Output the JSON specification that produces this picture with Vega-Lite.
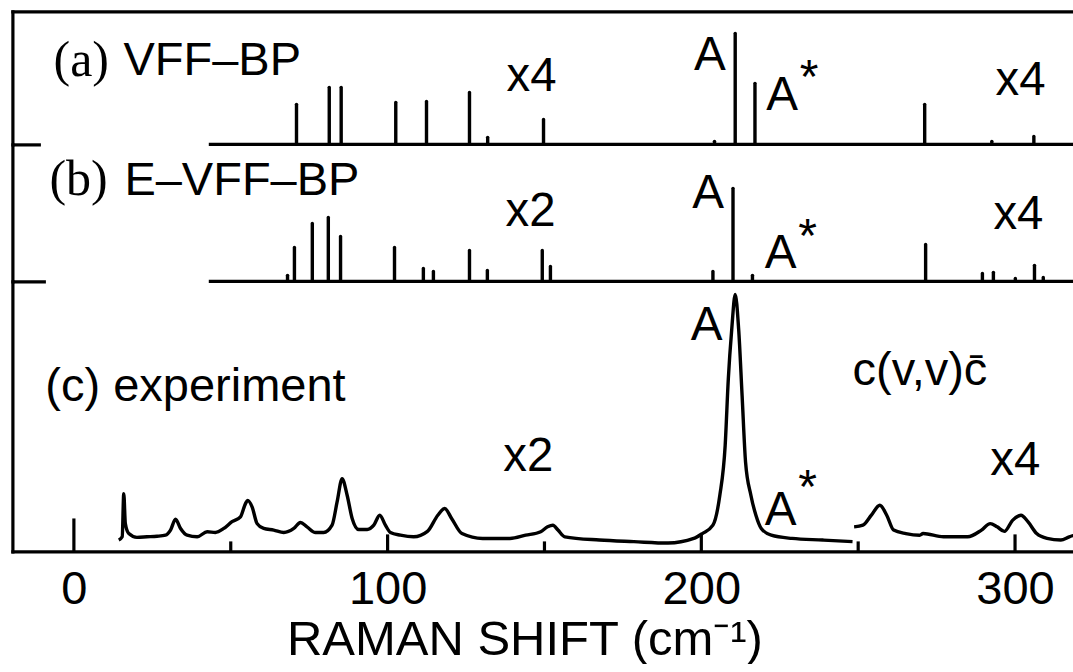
{
  "$schema": "https://vega.github.io/schema/vega-lite/v6.json",
  "background": "white",
  "padding": {"left": 10.4, "top": 11.4, "right": 0, "bottom": 0},
  "bounds": "flush",
  "spacing": 0,
  "config": {
    "view": {"stroke": null},
    "font": "Liberation Sans",
    "axis": {"domainColor": "black", "domainWidth": 3.2, "domainCap": "square", "tickColor": "black", "tickWidth": 3.2, "grid": false, "labelColor": "black", "titleColor": "black"}
  },
  "datasets": {
    "sticks": [
      {"panel": "a", "shift": 70.96, "intensity": 30.1},
      {"panel": "a", "shift": 81.4, "intensity": 42.9},
      {"panel": "a", "shift": 85.2, "intensity": 42.9},
      {"panel": "a", "shift": 102.6, "intensity": 31.6},
      {"panel": "a", "shift": 112.4, "intensity": 32.3},
      {"panel": "a", "shift": 126.1, "intensity": 39.1},
      {"panel": "a", "shift": 131.9, "intensity": 5.3},
      {"panel": "a", "shift": 149.7, "intensity": 18.8},
      {"panel": "a", "shift": 204.2, "intensity": 2.3},
      {"panel": "a", "shift": 210.8, "intensity": 83.5},
      {"panel": "a", "shift": 217.1, "intensity": 45.9},
      {"panel": "a", "shift": 271.2, "intensity": 30.1},
      {"panel": "a", "shift": 292.6, "intensity": 2.3},
      {"panel": "a", "shift": 306.0, "intensity": 6.0},
      {"panel": "b", "shift": 68.1, "intensity": 4.4},
      {"panel": "b", "shift": 70.3, "intensity": 24.8},
      {"panel": "b", "shift": 76.0, "intensity": 42.3},
      {"panel": "b", "shift": 81.1, "intensity": 46.7},
      {"panel": "b", "shift": 85.0, "intensity": 32.8},
      {"panel": "b", "shift": 102.2, "intensity": 24.8},
      {"panel": "b", "shift": 111.4, "intensity": 9.5},
      {"panel": "b", "shift": 114.6, "intensity": 7.3},
      {"panel": "b", "shift": 126.1, "intensity": 22.6},
      {"panel": "b", "shift": 131.8, "intensity": 8.0},
      {"panel": "b", "shift": 149.3, "intensity": 22.6},
      {"panel": "b", "shift": 151.9, "intensity": 10.9},
      {"panel": "b", "shift": 203.7, "intensity": 7.3},
      {"panel": "b", "shift": 210.1, "intensity": 67.9},
      {"panel": "b", "shift": 216.3, "intensity": 4.4},
      {"panel": "b", "shift": 271.5, "intensity": 27.0},
      {"panel": "b", "shift": 289.6, "intensity": 5.8},
      {"panel": "b", "shift": 293.1, "intensity": 6.6},
      {"panel": "b", "shift": 300.1, "intensity": 2.2},
      {"panel": "b", "shift": 306.2, "intensity": 11.7},
      {"panel": "b", "shift": 309.0, "intensity": 2.9}
    ],
    "baselines": [
      {"panel": "a", "intensity": 0},
      {"panel": "b", "intensity": 0}
    ],
    "experiment": [
      {"segment": 1, "shift": 14.3, "intensity": 4.2},
      {"segment": 1, "shift": 15.4, "intensity": 5.4},
      {"segment": 1, "shift": 15.9, "intensity": 21.4},
      {"segment": 1, "shift": 16.4, "intensity": 10.3},
      {"segment": 1, "shift": 17.5, "intensity": 6.6},
      {"segment": 1, "shift": 20.1, "intensity": 5.2},
      {"segment": 1, "shift": 23.3, "intensity": 5.4},
      {"segment": 1, "shift": 26.5, "intensity": 5.6},
      {"segment": 1, "shift": 29.2, "intensity": 6.0},
      {"segment": 1, "shift": 30.8, "intensity": 7.9},
      {"segment": 1, "shift": 32.4, "intensity": 11.9},
      {"segment": 1, "shift": 34.0, "intensity": 8.5},
      {"segment": 1, "shift": 36.1, "intensity": 6.0},
      {"segment": 1, "shift": 39.3, "intensity": 5.4},
      {"segment": 1, "shift": 42.5, "intensity": 7.3},
      {"segment": 1, "shift": 45.1, "intensity": 7.0},
      {"segment": 1, "shift": 47.8, "intensity": 8.5},
      {"segment": 1, "shift": 50.4, "intensity": 11.0},
      {"segment": 1, "shift": 53.1, "intensity": 12.8},
      {"segment": 1, "shift": 54.7, "intensity": 17.7},
      {"segment": 1, "shift": 55.4, "intensity": 18.9},
      {"segment": 1, "shift": 56.8, "intensity": 16.5},
      {"segment": 1, "shift": 58.4, "intensity": 10.3},
      {"segment": 1, "shift": 60.5, "intensity": 8.5},
      {"segment": 1, "shift": 63.7, "intensity": 7.9},
      {"segment": 1, "shift": 66.9, "intensity": 7.0},
      {"segment": 1, "shift": 70.1, "intensity": 8.5},
      {"segment": 1, "shift": 72.2, "intensity": 10.7},
      {"segment": 1, "shift": 74.3, "intensity": 9.1},
      {"segment": 1, "shift": 77.0, "intensity": 7.0},
      {"segment": 1, "shift": 79.6, "intensity": 7.0},
      {"segment": 1, "shift": 82.3, "intensity": 9.7},
      {"segment": 1, "shift": 83.9, "intensity": 18.3},
      {"segment": 1, "shift": 85.5, "intensity": 26.9},
      {"segment": 1, "shift": 87.1, "intensity": 20.8},
      {"segment": 1, "shift": 88.7, "intensity": 12.2},
      {"segment": 1, "shift": 90.8, "intensity": 8.1},
      {"segment": 1, "shift": 93.5, "intensity": 8.1},
      {"segment": 1, "shift": 95.6, "intensity": 9.7},
      {"segment": 1, "shift": 97.5, "intensity": 13.4},
      {"segment": 1, "shift": 99.3, "intensity": 9.7},
      {"segment": 1, "shift": 100.9, "intensity": 7.0},
      {"segment": 1, "shift": 104.1, "intensity": 6.0},
      {"segment": 1, "shift": 108.3, "intensity": 5.4},
      {"segment": 1, "shift": 112.7, "intensity": 7.4},
      {"segment": 1, "shift": 116.0, "intensity": 13.4},
      {"segment": 1, "shift": 118.2, "intensity": 15.9},
      {"segment": 1, "shift": 120.4, "intensity": 12.2},
      {"segment": 1, "shift": 123.7, "intensity": 6.6},
      {"segment": 1, "shift": 130.3, "intensity": 4.8},
      {"segment": 1, "shift": 139.0, "intensity": 4.8},
      {"segment": 1, "shift": 144.0, "intensity": 6.0},
      {"segment": 1, "shift": 148.8, "intensity": 7.3},
      {"segment": 1, "shift": 151.0, "intensity": 9.1},
      {"segment": 1, "shift": 152.7, "intensity": 9.7},
      {"segment": 1, "shift": 154.3, "intensity": 7.9},
      {"segment": 1, "shift": 156.5, "intensity": 5.4},
      {"segment": 1, "shift": 167.5, "intensity": 4.2},
      {"segment": 1, "shift": 178.5, "intensity": 3.6},
      {"segment": 1, "shift": 189.4, "intensity": 3.1},
      {"segment": 1, "shift": 197.6, "intensity": 4.8},
      {"segment": 1, "shift": 200.3, "intensity": 6.6},
      {"segment": 1, "shift": 203.7, "intensity": 9.7},
      {"segment": 1, "shift": 205.9, "intensity": 20.8},
      {"segment": 1, "shift": 207.6, "intensity": 39.2},
      {"segment": 1, "shift": 208.6, "intensity": 63.8},
      {"segment": 1, "shift": 209.7, "intensity": 82.3},
      {"segment": 1, "shift": 210.8, "intensity": 95.2},
      {"segment": 1, "shift": 211.9, "intensity": 82.3},
      {"segment": 1, "shift": 213.0, "intensity": 57.7},
      {"segment": 1, "shift": 214.1, "intensity": 33.1},
      {"segment": 1, "shift": 215.8, "intensity": 20.8},
      {"segment": 1, "shift": 217.4, "intensity": 13.4},
      {"segment": 1, "shift": 219.1, "intensity": 8.5},
      {"segment": 1, "shift": 222.3, "intensity": 6.0},
      {"segment": 1, "shift": 228.9, "intensity": 4.8},
      {"segment": 1, "shift": 238.8, "intensity": 4.2},
      {"segment": 1, "shift": 248.2, "intensity": 3.6},
      {"segment": 2, "shift": 248.7, "intensity": 9.1},
      {"segment": 2, "shift": 251.5, "intensity": 9.7},
      {"segment": 2, "shift": 254.2, "intensity": 13.4},
      {"segment": 2, "shift": 256.9, "intensity": 17.1},
      {"segment": 2, "shift": 259.1, "intensity": 13.4},
      {"segment": 2, "shift": 261.3, "intensity": 7.9},
      {"segment": 2, "shift": 265.2, "intensity": 6.6},
      {"segment": 2, "shift": 269.6, "intensity": 6.0},
      {"segment": 2, "shift": 270.7, "intensity": 6.6},
      {"segment": 2, "shift": 277.2, "intensity": 5.4},
      {"segment": 2, "shift": 284.9, "intensity": 5.4},
      {"segment": 2, "shift": 289.3, "intensity": 7.9},
      {"segment": 2, "shift": 292.1, "intensity": 10.3},
      {"segment": 2, "shift": 294.3, "intensity": 9.1},
      {"segment": 2, "shift": 296.6, "intensity": 7.4},
      {"segment": 2, "shift": 299.2, "intensity": 11.5},
      {"segment": 2, "shift": 301.9, "intensity": 13.4},
      {"segment": 2, "shift": 304.1, "intensity": 11.0},
      {"segment": 2, "shift": 306.9, "intensity": 6.6},
      {"segment": 2, "shift": 310.2, "intensity": 4.8},
      {"segment": 2, "shift": 314.6, "intensity": 4.2},
      {"segment": 2, "shift": 317.3, "intensity": 5.4},
      {"segment": 2, "shift": 318.6, "intensity": 5.9}
    ],
    "notes": [
      {"panel": "a", "role": "tag", "text": "(a)", "shift": -6.5, "intensity": 51.1},
      {"panel": "a", "role": "name", "text": "VFF–BP", "shift": 15.8, "intensity": 51.9},
      {"panel": "a", "role": "scale", "text": "x4", "shift": 137.9, "intensity": 39.8},
      {"panel": "a", "role": "peak", "text": "A", "shift": 197.7, "intensity": 55.6},
      {"panel": "a", "role": "peak", "text": "A", "shift": 220.7, "intensity": 25.6},
      {"panel": "a", "role": "star", "text": "*", "shift": 231.4, "intensity": 38.5},
      {"panel": "a", "role": "scale", "text": "x4", "shift": 293.8, "intensity": 36.8},
      {"panel": "b", "role": "tag", "text": "(b)", "shift": -7.8, "intensity": 62.8},
      {"panel": "b", "role": "name", "text": "E–VFF–BP", "shift": 16.1, "intensity": 62.8},
      {"panel": "b", "role": "scale", "text": "x2", "shift": 137.6, "intensity": 40.1},
      {"panel": "b", "role": "peak", "text": "A", "shift": 197.1, "intensity": 53.3},
      {"panel": "b", "role": "peak", "text": "A", "shift": 220.2, "intensity": 9.5},
      {"panel": "b", "role": "star", "text": "*", "shift": 230.9, "intensity": 21.5},
      {"panel": "b", "role": "scale", "text": "x4", "shift": 293.1, "intensity": 38.0},
      {"panel": "c", "role": "name", "text": "(c) experiment", "shift": -9.1, "intensity": 55.6},
      {"panel": "c", "role": "peak", "text": "A", "shift": 196.6, "intensity": 78.3},
      {"panel": "c", "role": "name", "text": "c(v,v)c̄", "shift": 248.2, "intensity": 61.5},
      {"panel": "c", "role": "scale", "text": "x2", "shift": 136.9, "intensity": 29.6},
      {"panel": "c", "role": "peak", "text": "A", "shift": 220.2, "intensity": 9.7},
      {"panel": "c", "role": "star", "text": "*", "shift": 230.9, "intensity": 18.0},
      {"panel": "c", "role": "scale", "text": "x4", "shift": 292.1, "intensity": 28.3}
    ],
    "ticks": [
      {"shift": 0, "kind": "origin"},
      {"shift": 50, "kind": "minor"},
      {"shift": 100, "kind": "major"},
      {"shift": 150, "kind": "minor"},
      {"shift": 200, "kind": "major"},
      {"shift": 250, "kind": "minor"},
      {"shift": 300, "kind": "major"}
    ]
  },
  "vconcat": [
    {
      "width": 1061,
      "height": 133,
      "layer": [
        {
          "data": {"name": "sticks"},
          "transform": [{"filter": "datum.panel === 'a'"}],
          "mark": {"type": "rule", "color": "black", "strokeWidth": 3.4, "strokeCap": "round"},
          "encoding": {
            "x": {"field": "shift", "type": "quantitative", "scale": {"domain": [-19.6, 318.6], "nice": false, "zero": false}, "axis": {"orient": "top", "labels": false, "ticks": false, "title": null}},
            "y": {"field": "intensity", "type": "quantitative", "scale": {"domain": [0, 100], "nice": false, "zero": false}, "axis": {"orient": "left", "values": [0], "labels": false, "tickSize": -28, "title": null}},
            "y2": {"datum": 0}
          }
        },
        {
          "data": {"name": "baselines"},
          "transform": [{"filter": "datum.panel === 'a'"}],
          "mark": {"type": "rule", "color": "black", "strokeWidth": 3.4},
          "encoding": {
            "x": {"datum": 43, "type": "quantitative", "scale": {"domain": [-19.6, 318.6], "nice": false, "zero": false}, "axis": {"orient": "top", "labels": false, "ticks": false, "title": null}},
            "x2": {"datum": 318.6},
            "y": {"field": "intensity", "type": "quantitative", "scale": {"domain": [0, 100], "nice": false, "zero": false}, "axis": {"orient": "left", "values": [0], "labels": false, "tickSize": -28, "title": null}}
          }
        },
        {
          "data": {"name": "notes"},
          "transform": [{"filter": "datum.panel === 'a' && datum.role === 'tag'"}],
          "mark": {"type": "text", "font": "Liberation Serif", "fontSize": 50, "align": "left", "baseline": "alphabetic", "color": "black"},
          "encoding": {
            "x": {"field": "shift", "type": "quantitative", "scale": {"domain": [-19.6, 318.6], "nice": false, "zero": false}, "axis": {"orient": "top", "labels": false, "ticks": false, "title": null}},
            "y": {"field": "intensity", "type": "quantitative", "scale": {"domain": [0, 100], "nice": false, "zero": false}, "axis": {"orient": "left", "values": [0], "labels": false, "tickSize": -28, "title": null}},
            "text": {"field": "text"}
          }
        },
        {
          "data": {"name": "notes"},
          "transform": [{"filter": "datum.panel === 'a' && datum.role !== 'tag'"}],
          "mark": {"type": "text", "font": "Liberation Sans", "align": "left", "baseline": "alphabetic", "color": "black"},
          "encoding": {
            "x": {"field": "shift", "type": "quantitative", "scale": {"domain": [-19.6, 318.6], "nice": false, "zero": false}, "axis": {"orient": "top", "labels": false, "ticks": false, "title": null}},
            "y": {"field": "intensity", "type": "quantitative", "scale": {"domain": [0, 100], "nice": false, "zero": false}, "axis": {"orient": "left", "values": [0], "labels": false, "tickSize": -28, "title": null}},
            "text": {"field": "text"},
            "size": {"field": "role", "type": "nominal", "scale": {"domain": ["name", "scale", "peak", "star"], "range": [47, 48, 50, 30]}, "legend": null}
          }
        }
      ]
    },
    {
      "width": 1061,
      "height": 137,
      "layer": [
        {
          "data": {"name": "sticks"},
          "transform": [{"filter": "datum.panel === 'b'"}],
          "mark": {"type": "rule", "color": "black", "strokeWidth": 3.4, "strokeCap": "round"},
          "encoding": {
            "x": {"field": "shift", "type": "quantitative", "scale": {"domain": [-19.6, 318.6], "nice": false, "zero": false}, "axis": null},
            "y": {"field": "intensity", "type": "quantitative", "scale": {"domain": [0, 100], "nice": false, "zero": false}, "axis": {"orient": "left", "values": [0], "labels": false, "tickSize": -33, "title": null}},
            "y2": {"datum": 0}
          }
        },
        {
          "data": {"name": "baselines"},
          "transform": [{"filter": "datum.panel === 'b'"}],
          "mark": {"type": "rule", "color": "black", "strokeWidth": 3.4},
          "encoding": {
            "x": {"datum": 43, "type": "quantitative", "scale": {"domain": [-19.6, 318.6], "nice": false, "zero": false}, "axis": null},
            "x2": {"datum": 318.6},
            "y": {"field": "intensity", "type": "quantitative", "scale": {"domain": [0, 100], "nice": false, "zero": false}, "axis": {"orient": "left", "values": [0], "labels": false, "tickSize": -33, "title": null}}
          }
        },
        {
          "data": {"name": "notes"},
          "transform": [{"filter": "datum.panel === 'b' && datum.role === 'tag'"}],
          "mark": {"type": "text", "font": "Liberation Serif", "fontSize": 50, "align": "left", "baseline": "alphabetic", "color": "black"},
          "encoding": {
            "x": {"field": "shift", "type": "quantitative", "scale": {"domain": [-19.6, 318.6], "nice": false, "zero": false}, "axis": null},
            "y": {"field": "intensity", "type": "quantitative", "scale": {"domain": [0, 100], "nice": false, "zero": false}, "axis": {"orient": "left", "values": [0], "labels": false, "tickSize": -33, "title": null}},
            "text": {"field": "text"}
          }
        },
        {
          "data": {"name": "notes"},
          "transform": [{"filter": "datum.panel === 'b' && datum.role !== 'tag'"}],
          "mark": {"type": "text", "font": "Liberation Sans", "align": "left", "baseline": "alphabetic", "color": "black"},
          "encoding": {
            "x": {"field": "shift", "type": "quantitative", "scale": {"domain": [-19.6, 318.6], "nice": false, "zero": false}, "axis": null},
            "y": {"field": "intensity", "type": "quantitative", "scale": {"domain": [0, 100], "nice": false, "zero": false}, "axis": {"orient": "left", "values": [0], "labels": false, "tickSize": -33, "title": null}},
            "text": {"field": "text"},
            "size": {"field": "role", "type": "nominal", "scale": {"domain": ["name", "scale", "peak", "star"], "range": [47, 48, 50, 30]}, "legend": null}
          }
        }
      ]
    },
    {
      "width": 1061,
      "height": 270,
      "layer": [
        {
          "data": {"name": "experiment"},
          "mark": {"type": "line", "color": "black", "strokeWidth": 3.4, "interpolate": "monotone"},
          "encoding": {
            "x": {
              "field": "shift", "type": "quantitative",
              "scale": {"domain": [-19.6, 318.6], "nice": false, "zero": false},
              "axis": {
                "orient": "bottom", "values": [0, 100, 200, 300], "ticks": false,
                "labelFont": "Liberation Sans", "labelFontSize": 47, "labelPadding": 52, "labelBaseline": "alphabetic", "labelFlush": false, "labelOverlap": false,
                "title": "RAMAN SHIFT (cm⁻¹)", "titleFont": "Liberation Sans", "titleFontSize": 49, "titleFontWeight": "normal",
                "titleX": 512, "titleY": 103, "titleAlign": "center", "titleBaseline": "alphabetic"
              }
            },
            "y": {"field": "intensity", "type": "quantitative", "scale": {"domain": [0, 100], "nice": false, "zero": false}, "axis": {"orient": "left", "labels": false, "ticks": false, "title": null}},
            "detail": {"field": "segment", "type": "nominal"}
          }
        },
        {
          "data": {"name": "ticks"},
          "transform": [{"filter": "datum.kind === 'origin'"}],
          "mark": {"type": "rule", "color": "black", "strokeWidth": 3.2},
          "encoding": {
            "x": {
              "field": "shift", "type": "quantitative",
              "scale": {"domain": [-19.6, 318.6], "nice": false, "zero": false},
              "axis": {
                "orient": "bottom", "values": [0, 100, 200, 300], "ticks": false,
                "labelFont": "Liberation Sans", "labelFontSize": 47, "labelPadding": 52, "labelBaseline": "alphabetic", "labelFlush": false, "labelOverlap": false,
                "title": "RAMAN SHIFT (cm⁻¹)", "titleFont": "Liberation Sans", "titleFontSize": 49, "titleFontWeight": "normal",
                "titleX": 512, "titleY": 103, "titleAlign": "center", "titleBaseline": "alphabetic"
              }
            },
            "y": {"datum": 12.2, "type": "quantitative", "scale": {"domain": [0, 100], "nice": false, "zero": false}, "axis": {"orient": "left", "labels": false, "ticks": false, "title": null}},
            "y2": {"datum": 0}
          }
        },
        {
          "data": {"name": "ticks"},
          "transform": [{"filter": "datum.kind === 'major'"}],
          "mark": {"type": "rule", "color": "black", "strokeWidth": 3.2},
          "encoding": {
            "x": {
              "field": "shift", "type": "quantitative",
              "scale": {"domain": [-19.6, 318.6], "nice": false, "zero": false},
              "axis": {
                "orient": "bottom", "values": [0, 100, 200, 300], "ticks": false,
                "labelFont": "Liberation Sans", "labelFontSize": 47, "labelPadding": 52, "labelBaseline": "alphabetic", "labelFlush": false, "labelOverlap": false,
                "title": "RAMAN SHIFT (cm⁻¹)", "titleFont": "Liberation Sans", "titleFontSize": 49, "titleFontWeight": "normal",
                "titleX": 512, "titleY": 103, "titleAlign": "center", "titleBaseline": "alphabetic"
              }
            },
            "y": {"datum": 6.3, "type": "quantitative", "scale": {"domain": [0, 100], "nice": false, "zero": false}, "axis": {"orient": "left", "labels": false, "ticks": false, "title": null}},
            "y2": {"datum": 0}
          }
        },
        {
          "data": {"name": "ticks"},
          "transform": [{"filter": "datum.kind === 'minor'"}],
          "mark": {"type": "rule", "color": "black", "strokeWidth": 3.2},
          "encoding": {
            "x": {
              "field": "shift", "type": "quantitative",
              "scale": {"domain": [-19.6, 318.6], "nice": false, "zero": false},
              "axis": {
                "orient": "bottom", "values": [0, 100, 200, 300], "ticks": false,
                "labelFont": "Liberation Sans", "labelFontSize": 47, "labelPadding": 52, "labelBaseline": "alphabetic", "labelFlush": false, "labelOverlap": false,
                "title": "RAMAN SHIFT (cm⁻¹)", "titleFont": "Liberation Sans", "titleFontSize": 49, "titleFontWeight": "normal",
                "titleX": 512, "titleY": 103, "titleAlign": "center", "titleBaseline": "alphabetic"
              }
            },
            "y": {"datum": 3.7, "type": "quantitative", "scale": {"domain": [0, 100], "nice": false, "zero": false}, "axis": {"orient": "left", "labels": false, "ticks": false, "title": null}},
            "y2": {"datum": 0}
          }
        },
        {
          "data": {"name": "notes"},
          "transform": [{"filter": "datum.panel === 'c'"}],
          "mark": {"type": "text", "font": "Liberation Sans", "align": "left", "baseline": "alphabetic", "color": "black"},
          "encoding": {
            "x": {
              "field": "shift", "type": "quantitative",
              "scale": {"domain": [-19.6, 318.6], "nice": false, "zero": false},
              "axis": {
                "orient": "bottom", "values": [0, 100, 200, 300], "ticks": false,
                "labelFont": "Liberation Sans", "labelFontSize": 47, "labelPadding": 52, "labelBaseline": "alphabetic", "labelFlush": false, "labelOverlap": false,
                "title": "RAMAN SHIFT (cm⁻¹)", "titleFont": "Liberation Sans", "titleFontSize": 49, "titleFontWeight": "normal",
                "titleX": 512, "titleY": 103, "titleAlign": "center", "titleBaseline": "alphabetic"
              }
            },
            "y": {"field": "intensity", "type": "quantitative", "scale": {"domain": [0, 100], "nice": false, "zero": false}, "axis": {"orient": "left", "labels": false, "ticks": false, "title": null}},
            "text": {"field": "text"},
            "size": {"field": "role", "type": "nominal", "scale": {"domain": ["name", "scale", "peak", "star"], "range": [47, 48, 50, 30]}, "legend": null}
          }
        }
      ]
    }
  ]
}
